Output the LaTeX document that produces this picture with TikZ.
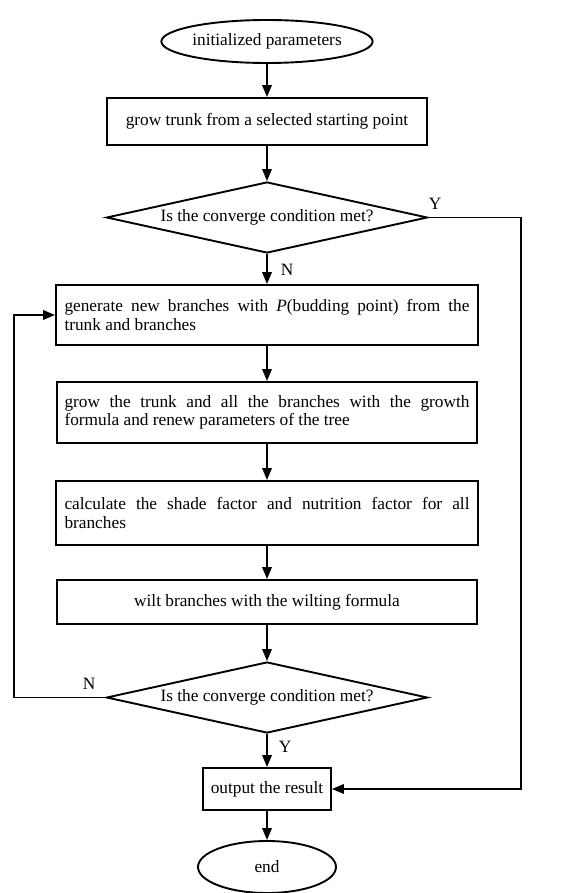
\documentclass[tikz,border=0pt]{standalone}
\usepackage{fontspec}
\setmainfont{Liberation Serif}
\usetikzlibrary{shapes.geometric,arrows.meta}
\begin{document}
\begin{tikzpicture}[x=1pt,y=-1pt,
  every node/.style={font=\fontsize{17.3}{18.3}\selectfont, inner sep=0pt},
  lw/.style={line width=1.9pt},
  term/.style={lw, draw, ellipse},
  proc/.style={lw, draw, rectangle},
  para/.style={proc, text width=405pt, align=justify, execute at begin node={\hyphenpenalty=10000\exhyphenpenalty=10000}},
  dec/.style={lw, draw, diamond, minimum width=321pt, minimum height=71pt, aspect=4.5},
  arr/.style={line width=1.8pt, -{Triangle[length=12pt,width=9.5pt]}},
  lab/.style={font=\fontsize{17.3}{18}\selectfont}]
\useasboundingbox (0,0) rectangle (566,893);
\node[term, minimum width=191pt, minimum height=43pt] (start) at (267,41.5) {initialized parameters};
\node[proc, minimum width=320pt, minimum height=47pt] (b1) at (267,121.5) {grow trunk from a selected starting point};
\node[dec] (d1) at (267,217.5) {Is the converge condition met?};
\node[para, minimum width=422pt, minimum height=60pt] (b2) at (267,315) {generate new branches with \textit{P}(budding point) from the\linebreak trunk and branches};
\node[para, minimum width=420pt, minimum height=61pt] (b3) at (267,412.5) {grow the trunk and all the branches with the growth\linebreak formula and renew parameters of the tree};
\node[para, minimum width=422pt, minimum height=64pt] (b4) at (267,513) {calculate the shade factor and nutrition factor for all\linebreak branches};
\node[proc, minimum width=420pt, minimum height=44pt] (b5) at (267,602) {wilt branches with the wilting formula};
\node[dec] (d2) at (267,697.5) {Is the converge condition met?};
\node[proc, minimum width=128pt, minimum height=42pt] (b6) at (267,789) {output the result};
\node[term, minimum width=138pt, minimum height=52pt] (end) at (267,867) {end};
\coordinate (yr) at (521,217.5);
\coordinate (nl) at (14,697.5);
\draw[arr] (start) -- (b1);
\draw[arr] (b1) -- (d1);
\draw[arr] (d1) -- (b2);
\draw[arr] (b2) -- (b3);
\draw[arr] (b3) -- (b4);
\draw[arr] (b4) -- (b5);
\draw[arr] (b5) -- (d2);
\draw[arr] (d2) -- (b6);
\draw[arr] (b6) -- (end);
\draw[arr] (d1.east) -- (yr) |- (b6.east);
\draw[arr] (d2.west) -- (nl) |- (b2.west);
\node[lab] (y1) at (435,204) {Y};
\node[lab] (n1) at (287,270) {N};
\node[lab] (n2) at (89,684) {N};
\node[lab] (y2) at (285,747) {Y};
\end{tikzpicture}
\end{document}
